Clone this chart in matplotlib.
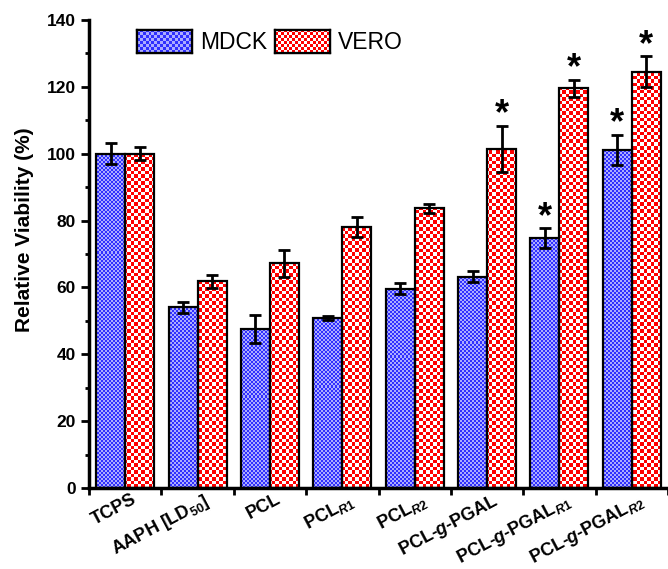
import numpy as np
import matplotlib
matplotlib.use("Agg")
import matplotlib.pyplot as plt
from matplotlib.ticker import MultipleLocator
from matplotlib.transforms import ScaledTranslation

# ===== data =====
groups = ["TCPS", "AAPH [LD$_{50}$]", "PCL", "PCL$_{R1}$", "PCL$_{R2}$",
          "PCL-$g$-PGAL", "PCL-$g$-PGAL$_{R1}$", "PCL-$g$-PGAL$_{R2}$"]
mdck = [100.0, 54.0, 47.6, 50.9, 59.6, 63.2, 74.7, 101.1]
mdck_err = [3.1, 1.6, 4.1, 0.7, 1.7, 1.7, 3.0, 4.6]
vero = [100.0, 61.8, 67.2, 78.0, 83.7, 101.4, 119.6, 124.5]
vero_err = [2.0, 1.9, 4.0, 3.0, 1.3, 7.0, 2.5, 4.6]
mdck_star = [False, False, False, False, False, False, True, True]
vero_star = [False, False, False, False, False, True, True, True]

plt.rcParams["font.family"] = ["Liberation Sans", "DejaVu Sans"]
plt.rcParams["mathtext.fontset"] = "custom"
plt.rcParams["mathtext.rm"] = "Liberation Sans:bold"
plt.rcParams["mathtext.it"] = "Liberation Sans:bold:italic"
plt.rcParams["mathtext.bf"] = "Liberation Sans:bold"

W, H = 668, 569
fig = plt.figure(figsize=(W / 100, H / 100), dpi=100)
ax = fig.add_axes([89 / W, 81 / H, 579 / W, 468 / H])

x = np.arange(1, len(groups) + 1)
bw = 0.4
xlim = (0.5, len(groups) + 0.5)
ylim = (0, 140)


def checker(nx, ny, c1, c2):
    c1 = np.array(matplotlib.colors.to_rgb(c1))
    c2 = np.array(matplotlib.colors.to_rgb(c2))
    m = (np.add.outer(np.arange(ny), np.arange(nx)) % 2)[..., None]
    return m * c1 + (1 - m) * c2


# check sizes in pixels: blue ~2px, red ~3.5px
blue_img = checker(int(579 / 2), int(468 / 2), "#3030ff", "#acacff")
red_img = checker(int(579 / 3.5), int(468 / 3.5), "#ff0000", "#ffffff")

bars_m = ax.bar(x - bw / 2, mdck, bw, facecolor="none", edgecolor="k",
                linewidth=1.6, zorder=3, label="MDCK")
bars_v = ax.bar(x + bw / 2, vero, bw, facecolor="none", edgecolor="k",
                linewidth=1.6, zorder=3, label="VERO")

for bars, img in [(bars_m, blue_img), (bars_v, red_img)]:
    for b in bars:
        im = ax.imshow(img, extent=(*xlim, *ylim), aspect="auto",
                       interpolation="nearest", origin="lower", zorder=2)
        im.set_clip_path(b)

ax.errorbar(x - bw / 2, mdck, yerr=mdck_err, fmt="none", ecolor="k",
            elinewidth=2, capsize=4.5, capthick=2, zorder=4)
ax.errorbar(x + bw / 2, vero, yerr=vero_err, fmt="none", ecolor="k",
            elinewidth=2, capsize=4.5, capthick=2, zorder=4)

for xs, vals, errs, stars in [(x - bw / 2, mdck, mdck_err, mdck_star),
                              (x + bw / 2, vero, vero_err, vero_star)]:
    for xi, v, e, s in zip(xs, vals, errs, stars):
        if s:
            ax.annotate("*", (xi, v + e), xytext=(0, 1),
                        textcoords="offset points", ha="center",
                        va="baseline", fontsize=26, fontweight="bold")

ax.set_xlim(*xlim)
ax.set_ylim(*ylim)

# axes styling
for s in ["top", "right"]:
    ax.spines[s].set_visible(False)
ax.spines["left"].set_linewidth(2.5)
ax.spines["bottom"].set_linewidth(2.5)

ax.set_xticks(np.arange(0.5, len(groups) + 1, 1))
ax.set_xticklabels([])
ax.set_xticks(x, minor=True)
ax.set_xticklabels(groups, minor=True, rotation=28, ha="right",
                   rotation_mode="anchor", fontsize=13, fontweight="bold")
ax.tick_params(axis="x", which="major", direction="out", length=5, width=2)
ax.tick_params(axis="x", which="minor", length=0, pad=2)
shift = ScaledTranslation(6 / 100, 0, fig.dpi_scale_trans)
for lab in ax.get_xticklabels(minor=True):
    lab.set_transform(lab.get_transform() + shift)

ax.yaxis.set_major_locator(MultipleLocator(20))
ax.yaxis.set_minor_locator(MultipleLocator(10))
ax.tick_params(axis="y", which="major", direction="out", length=6, width=2,
               labelsize=12.5)
ax.tick_params(axis="y", which="minor", direction="out", length=3, width=2)
for lab in ax.get_yticklabels():
    lab.set_fontweight("bold")

ax.set_ylabel("Relative Viability (%)", fontsize=15, fontweight="bold")
ax.yaxis.set_label_coords(-0.095, 0.553)

leg = ax.legend(loc="center left", bbox_to_anchor=(0.083, 0.953), ncol=2,
                frameon=False, fontsize=16.5, handlelength=2.4, handleheight=1.2,
                handletextpad=0.35, columnspacing=0.35, borderpad=0,
                borderaxespad=0)

# fill the legend boxes with the same checker pattern
fig.canvas.draw()
renderer = fig.canvas.get_renderer()
for patch, img in zip(leg.get_patches(), [blue_img, red_img]):
    bb = patch.get_window_extent(renderer)
    lax = fig.add_axes([bb.x0 / W, bb.y0 / H, bb.width / W, bb.height / H])
    lax.imshow(img[: int(bb.height / 3) + 1, : int(bb.width / 3) + 1],
               aspect="auto", interpolation="nearest")
    lax.set_xticks([])
    lax.set_yticks([])
    for s in lax.spines.values():
        s.set_linewidth(1.6)

fig.savefig("out.png", dpi=100)
